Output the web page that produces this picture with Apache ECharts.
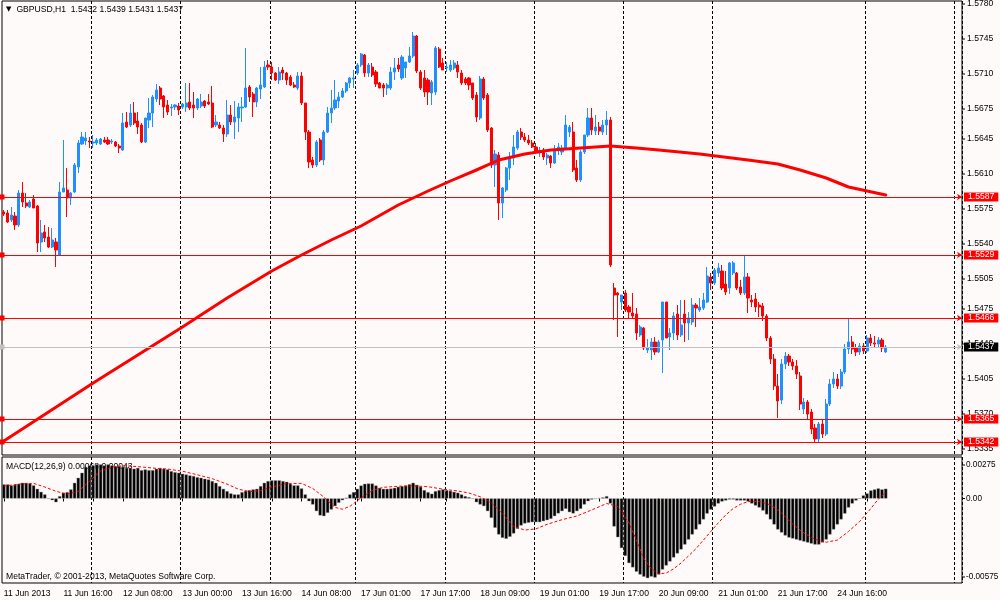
<!DOCTYPE html>
<html><head><meta charset="utf-8">
<script src="https://cdn.jsdelivr.net/npm/echarts@6/dist/echarts.min.js"></script>
<style>html,body{margin:0;padding:0;background:#fffafa;}#c{width:1000px;height:600px;}</style>
</head><body><div id="c"></div>
<script>
// ---------- data ----------
const symbolName = 'GBPUSD,H1';
// trading sessions: [year, month, day, first hour, number of hourly slots]
const sessions = [[2013,6,11,0,95],[2013,6,17,0,119],[2013,6,24,6,44]];
const open = [
1.5572,1.5571,1.5564,1.5568,1.5559,1.5591,1.5581,1.5577,1.5585,1.5578,
1.5542,1.5552,1.5547,1.5537,1.5542,1.5529,1.5592,1.5594,1.5586,1.5592,
1.5617,1.5640,1.5643,1.5643,1.5641,1.5641,1.5640,1.5644,1.5644,1.5642,
1.5642,1.5638,1.5634,1.5662,1.5659,1.5671,1.5663,1.5659,1.5642,1.5664,
1.5671,1.5685,1.5696,1.5688,1.5679,1.5676,1.5677,1.5678,1.5677,1.5677,
1.5682,1.5679,1.5676,1.5678,1.5683,1.5682,1.5681,1.5659,1.5659,1.5656,
1.5650,1.5669,1.5662,1.5666,1.5676,1.5677,1.5697,1.5690,1.5682,1.5695,
1.5697,1.5719,1.5717,1.5711,1.5704,1.5714,1.5711,1.5707,1.5699,1.5696,
1.5708,1.5681,1.5652,1.5624,1.5619,1.5644,1.5624,1.5652,1.5671,1.5676,
1.5683,1.5687,1.5693,1.5701,1.5705,1.5711,1.5719,1.5729,1.5711,1.5717,
1.5712,1.5701,1.5699,1.5696,1.5696,1.5712,1.5719,1.5706,1.5716,1.5722,
1.5728,1.5748,1.5712,1.5706,1.5704,1.5691,1.5692,1.5735,1.5721,1.5716,
1.5714,1.5716,1.5719,1.5711,1.5705,1.5706,1.5701,1.5689,1.5666,1.5705,
1.5689,1.5656,1.5619,1.5629,1.5581,1.5594,1.5616,1.5626,1.5636,1.5652,
1.5647,1.5644,1.5641,1.5637,1.5631,1.5634,1.5626,1.5628,1.5621,1.5634,
1.5632,1.5636,1.5652,1.5652,1.5616,1.5604,1.5632,1.5649,1.5666,1.5653,
1.5657,1.5652,1.5659,1.5664,1.5496,1.5491,1.5482,1.5491,1.5477,1.5471,
1.5470,1.5449,1.5456,1.5434,1.5434,1.5442,1.5432,1.5444,1.5482,1.5447,
1.5451,1.5470,1.5449,1.5470,1.5461,1.5462,1.5479,1.5474,1.5476,1.5482,
1.5507,1.5501,1.5511,1.5513,1.5500,1.5496,1.5511,1.5511,1.5497,1.5491,
1.5507,1.5484,1.5485,1.5479,1.5478,1.5468,1.5446,1.5425,1.5398,1.5384,
1.5420,1.5428,1.5422,1.5418,1.5408,1.5375,1.5382,1.5372,1.5356,1.5345,
1.5360,1.5350,1.5380,1.5400,1.5405,1.5398,1.5412,1.5435,1.5442,1.5436,
1.5432,1.5438,1.5433,1.5446,1.5441,1.5440,1.5444,1.5432];
const high = [
1.5574,1.5574,1.5577,1.5572,1.5594,1.5602,1.5591,1.5584,1.5589,1.5579,
1.5564,1.5559,1.5557,1.5556,1.5546,1.5602,1.5644,1.5616,1.5592,1.5621,
1.5644,1.5652,1.5652,1.5647,1.5649,1.5646,1.5646,1.5647,1.5647,1.5645,
1.5643,1.5640,1.5671,1.5672,1.5680,1.5682,1.5672,1.5661,1.5666,1.5686,
1.5689,1.5700,1.5698,1.5689,1.5684,1.5680,1.5680,1.5681,1.5681,1.5701,
1.5701,1.5692,1.5686,1.5690,1.5684,1.5690,1.5698,1.5669,1.5662,1.5659,
1.5684,1.5679,1.5683,1.5681,1.5687,1.5736,1.5699,1.5692,1.5697,1.5717,
1.5723,1.5724,1.5722,1.5712,1.5717,1.5717,1.5712,1.5709,1.5702,1.5712,
1.5712,1.5681,1.5654,1.5627,1.5644,1.5646,1.5654,1.5677,1.5694,1.5704,
1.5692,1.5696,1.5702,1.5707,1.5714,1.5721,1.5731,1.5730,1.5721,1.5721,
1.5714,1.5702,1.5701,1.5701,1.5717,1.5726,1.5726,1.5729,1.5722,1.5737,
1.5752,1.5749,1.5714,1.5714,1.5706,1.5704,1.5738,1.5737,1.5726,1.5722,
1.5724,1.5724,1.5723,1.5714,1.5707,1.5707,1.5701,1.5692,1.5708,1.5707,
1.5691,1.5657,1.5634,1.5632,1.5597,1.5617,1.5632,1.5649,1.5654,1.5656,
1.5651,1.5649,1.5644,1.5641,1.5637,1.5636,1.5631,1.5629,1.5639,1.5641,
1.5639,1.5669,1.5659,1.5662,1.5624,1.5634,1.5649,1.5676,1.5676,1.5669,
1.5662,1.5664,1.5673,1.5667,1.5501,1.5492,1.5489,1.5494,1.5479,1.5491,
1.5476,1.5459,1.5457,1.5445,1.5446,1.5447,1.5444,1.5482,1.5482,1.5456,
1.5472,1.5479,1.5484,1.5484,1.5472,1.5486,1.5481,1.5486,1.5491,1.5517,
1.5511,1.5516,1.5521,1.5519,1.5513,1.5522,1.5523,1.5512,1.5504,1.5529,
1.5511,1.5489,1.5491,1.5482,1.5481,1.5470,1.5448,1.5430,1.5410,1.5425,
1.5432,1.5430,1.5425,1.5424,1.5412,1.5386,1.5384,1.5375,1.5360,1.5362,
1.5364,1.5385,1.5405,1.5412,1.5410,1.5415,1.5440,1.5466,1.5448,1.5440,
1.5441,1.5441,1.5449,1.5450,1.5448,1.5447,1.5446,1.5439];
const low = [
1.5568,1.5561,1.5562,1.5554,1.5557,1.5577,1.5576,1.5576,1.5576,1.5532,
1.5532,1.5542,1.5536,1.5536,1.5517,1.5529,1.5592,1.5567,1.5579,1.5591,
1.5611,1.5639,1.5639,1.5636,1.5636,1.5639,1.5639,1.5641,1.5639,1.5640,
1.5637,1.5631,1.5633,1.5656,1.5657,1.5659,1.5650,1.5641,1.5641,1.5656,
1.5657,1.5682,1.5679,1.5666,1.5669,1.5668,1.5674,1.5669,1.5675,1.5672,
1.5674,1.5666,1.5674,1.5676,1.5676,1.5679,1.5656,1.5657,1.5655,1.5642,
1.5647,1.5659,1.5645,1.5652,1.5662,1.5676,1.5682,1.5667,1.5677,1.5685,
1.5696,1.5714,1.5704,1.5703,1.5700,1.5704,1.5699,1.5698,1.5696,1.5694,
1.5679,1.5644,1.5616,1.5616,1.5617,1.5622,1.5619,1.5651,1.5661,1.5674,
1.5676,1.5686,1.5691,1.5696,1.5696,1.5709,1.5717,1.5707,1.5707,1.5707,
1.5697,1.5696,1.5687,1.5689,1.5694,1.5704,1.5712,1.5704,1.5706,1.5721,
1.5726,1.5711,1.5694,1.5687,1.5679,1.5679,1.5689,1.5716,1.5714,1.5712,
1.5712,1.5714,1.5706,1.5699,1.5699,1.5694,1.5684,1.5662,1.5664,1.5684,
1.5652,1.5616,1.5597,1.5564,1.5566,1.5592,1.5604,1.5619,1.5634,1.5644,
1.5642,1.5639,1.5636,1.5631,1.5627,1.5624,1.5619,1.5616,1.5620,1.5629,
1.5629,1.5635,1.5647,1.5612,1.5602,1.5602,1.5630,1.5647,1.5649,1.5649,
1.5649,1.5649,1.5649,1.5517,1.5464,1.5447,1.5474,1.5472,1.5466,1.5466,
1.5444,1.5447,1.5434,1.5431,1.5424,1.5429,1.5431,1.5411,1.5446,1.5434,
1.5444,1.5444,1.5447,1.5442,1.5444,1.5459,1.5457,1.5472,1.5474,1.5481,
1.5494,1.5499,1.5507,1.5494,1.5489,1.5490,1.5509,1.5494,1.5489,1.5489,
1.5471,1.5477,1.5472,1.5467,1.5463,1.5443,1.5420,1.5394,1.5366,1.5380,
1.5415,1.5418,1.5414,1.5405,1.5374,1.5370,1.5365,1.5350,1.5341,1.5342,
1.5346,1.5348,1.5378,1.5396,1.5395,1.5395,1.5410,1.5430,1.5430,1.5428,
1.5429,1.5430,1.5431,1.5438,1.5436,1.5437,1.5432,1.5431];
const close = [
1.5570,1.5562,1.5569,1.5559,1.5591,1.5582,1.5578,1.5582,1.5576,1.5541,
1.5551,1.5546,1.5537,1.5544,1.5534,1.5592,1.5596,1.5586,1.5591,1.5619,
1.5641,1.5647,1.5646,1.5642,1.5642,1.5644,1.5645,1.5642,1.5640,1.5643,
1.5638,1.5636,1.5661,1.5657,1.5671,1.5661,1.5657,1.5642,1.5666,1.5671,
1.5687,1.5694,1.5685,1.5677,1.5672,1.5677,1.5679,1.5674,1.5680,1.5681,
1.5676,1.5676,1.5685,1.5682,1.5678,1.5680,1.5657,1.5662,1.5656,1.5650,
1.5669,1.5662,1.5667,1.5677,1.5677,1.5696,1.5687,1.5682,1.5696,1.5699,
1.5717,1.5717,1.5711,1.5704,1.5712,1.5711,1.5704,1.5699,1.5697,1.5708,
1.5681,1.5652,1.5622,1.5619,1.5642,1.5624,1.5652,1.5671,1.5676,1.5684,
1.5687,1.5693,1.5701,1.5706,1.5706,1.5719,1.5730,1.5711,1.5719,1.5709,
1.5700,1.5696,1.5696,1.5699,1.5712,1.5716,1.5715,1.5727,1.5722,1.5728,
1.5748,1.5713,1.5696,1.5692,1.5692,1.5702,1.5736,1.5717,1.5714,1.5717,
1.5719,1.5721,1.5712,1.5701,1.5701,1.5699,1.5686,1.5667,1.5705,1.5686,
1.5654,1.5619,1.5630,1.5581,1.5596,1.5616,1.5627,1.5637,1.5652,1.5647,
1.5644,1.5641,1.5637,1.5632,1.5634,1.5627,1.5629,1.5621,1.5634,1.5637,
1.5636,1.5659,1.5657,1.5614,1.5604,1.5632,1.5649,1.5666,1.5654,1.5657,
1.5653,1.5659,1.5664,1.5519,1.5489,1.5489,1.5489,1.5474,1.5472,1.5468,
1.5451,1.5457,1.5436,1.5436,1.5442,1.5432,1.5442,1.5482,1.5446,1.5451,
1.5468,1.5449,1.5459,1.5461,1.5466,1.5479,1.5476,1.5477,1.5484,1.5508,
1.5501,1.5514,1.5516,1.5496,1.5492,1.5521,1.5521,1.5496,1.5491,1.5507,
1.5486,1.5482,1.5477,1.5477,1.5468,1.5446,1.5425,1.5398,1.5383,1.5420,
1.5428,1.5422,1.5418,1.5410,1.5380,1.5382,1.5370,1.5355,1.5345,1.5360,
1.5350,1.5380,1.5400,1.5405,1.5398,1.5412,1.5435,1.5442,1.5435,1.5432,
1.5438,1.5433,1.5446,1.5441,1.5440,1.5444,1.5436,1.5437];
// moving average: [bar index, value]
const maPoints = [[0,1.5343],[12,1.5372],[24,1.5401],[36,1.5429],[48,1.5457],[60,1.5486],[72,1.5513],[80,1.5529],[88,1.5544],[96,1.5558],[106,1.5579],[114,1.5593],[120,1.5603],[127,1.5614],[133,1.5624],[140,1.5630],[147,1.5634],[155,1.5636],[163,1.5638],[170,1.5636],[176,1.5634],[187,1.5630],[200,1.5624],[208,1.5620],[214,1.5614],[221,1.5606],[227,1.5597],[232,1.5593],[237,1.5589]];
const levels = [1.5587, 1.5529, 1.5466, 1.5365, 1.5342];
const levelAnchored = [true, false, true, true, true];
const bid = 1.5437;
const priceTicks = ['1.5780','1.5745','1.5710','1.5675','1.5645','1.5610','1.5575','1.5540','1.5505','1.5475','1.5440','1.5405','1.5370','1.5335'];
const macd = [
0.00098,0.00098,0.00091,0.00095,0.00102,0.00109,0.00109,0.00104,0.00091,0.00067,
0.00046,0.00028,-0.00002,-0.00012,-0.00026,0.00016,0.00040,0.00044,0.00063,0.00109,
0.00144,0.00179,0.00220,0.00230,0.00230,0.00237,0.00237,0.00230,0.00237,0.00230,
0.00225,0.00225,0.00220,0.00213,0.00213,0.00207,0.00213,0.00197,0.00202,0.00197,
0.00197,0.00207,0.00213,0.00207,0.00202,0.00190,0.00183,0.00179,0.00172,0.00167,
0.00160,0.00156,0.00148,0.00144,0.00137,0.00132,0.00121,0.00109,0.00086,0.00067,
0.00051,0.00035,0.00028,0.00028,0.00044,0.00053,0.00058,0.00063,0.00067,0.00086,
0.00109,0.00121,0.00126,0.00126,0.00126,0.00121,0.00116,0.00102,0.00091,0.00091,
0.00070,0.00028,-0.00019,-0.00042,-0.00088,-0.00118,-0.00123,-0.00100,-0.00077,-0.00053,
-0.00030,-0.00012,0.00005,0.00028,0.00044,0.00067,0.00090,0.00102,0.00104,0.00104,
0.00090,0.00074,0.00067,0.00067,0.00069,0.00074,0.00081,0.00086,0.00090,0.00099,
0.00109,0.00095,0.00081,0.00058,0.00044,0.00033,0.00051,0.00058,0.00063,0.00058,
0.00053,0.00046,0.00040,0.00028,0.00016,0.00009,-0.00002,-0.00026,-0.00042,-0.00053,
-0.00088,-0.00135,-0.00204,-0.00251,-0.00274,-0.00281,-0.00267,-0.00244,-0.00211,-0.00188,
-0.00174,-0.00169,-0.00165,-0.00165,-0.00165,-0.00158,-0.00151,-0.00142,-0.00123,-0.00104,
-0.00088,-0.00072,-0.00095,-0.00104,-0.00088,-0.00072,-0.00042,-0.00019,-0.00007,-0.00002,
0.00002,0.00007,0.00016,-0.00035,-0.00195,-0.00270,-0.00345,-0.00400,-0.00450,-0.00480,
-0.00510,-0.00530,-0.00545,-0.00555,-0.00544,-0.00551,-0.00530,-0.00495,-0.00467,-0.00439,
-0.00411,-0.00383,-0.00355,-0.00321,-0.00286,-0.00251,-0.00216,-0.00181,-0.00146,-0.00105,
-0.00077,-0.00056,-0.00035,-0.00021,-0.00014,-0.00007,-0.00007,-0.00014,-0.00014,-0.00014,
-0.00021,-0.00035,-0.00049,-0.00063,-0.00084,-0.00111,-0.00146,-0.00181,-0.00216,-0.00237,
-0.00258,-0.00272,-0.00279,-0.00286,-0.00293,-0.00300,-0.00307,-0.00314,-0.00321,-0.00321,
-0.00307,-0.00286,-0.00251,-0.00216,-0.00181,-0.00146,-0.00105,-0.00063,-0.00035,-0.00014,
0.00000,0.00021,0.00035,0.00056,0.00063,0.00070,0.00063,0.00068];
// signal line: [bar index, value]
const signal = [[0,0.00086],[4,0.00100],[8,0.00105],[11,0.00080],[14,0.00050],[17,0.00030],[20,0.00050],[23,0.00120],[26,0.00190],[29,0.00218],[32,0.00228],[36,0.00222],[40,0.00212],[44,0.00205],[48,0.00190],[52,0.00165],[56,0.00138],[60,0.00100],[63,0.00065],[66,0.00048],[69,0.00055],[72,0.00080],[76,0.00105],[80,0.00105],[83,0.00070],[86,0.00010],[89,-0.00062],[91,-0.00075],[93,-0.00055],[96,0.00005],[99,0.00055],[102,0.00078],[106,0.00085],[110,0.00088],[114,0.00082],[118,0.00065],[122,0.00052],[125,0.00038],[128,0.00012],[131,-0.00030],[134,-0.00105],[137,-0.00195],[140,-0.00220],[143,-0.00212],[146,-0.00180],[150,-0.00148],[154,-0.00122],[158,-0.00080],[162,-0.00035],[165,-0.00056],[168,-0.00170],[170,-0.00290],[172,-0.00420],[174,-0.00490],[176,-0.00525],[178,-0.00520],[180,-0.00490],[182,-0.00450],[184,-0.00400],[186,-0.00350],[188,-0.00290],[190,-0.00230],[192,-0.00170],[194,-0.00115],[196,-0.00070],[198,-0.00040],[200,-0.00022],[203,-0.00020],[206,-0.00045],[209,-0.00100],[212,-0.00180],[215,-0.00240],[218,-0.00285],[221,-0.00305],[224,-0.00290],[227,-0.00230],[230,-0.00160],[233,-0.00070],[235,-0.00005],[237,0.00043]];
const macdTicks = [0.00275, 0, -0.00575];
const macdTickText = ['0.00275', '0.00', '-0.00575'];
const copyright = 'MetaTrader, \u00a9 2001-2013, MetaQuotes Software Corp.';

// ---------- derived ----------
const MONTHS = ['Jan','Feb','Mar','Apr','May','Jun','Jul','Aug','Sep','Oct','Nov','Dec'];
const times = [];
sessions.forEach(s => { const t0 = Date.UTC(s[0], s[1]-1, s[2], s[3]); for (let k = 0; k < s[4]; k++) times.push(t0 + k*3600000); });
const pad = n => (n < 10 ? '0' : '') + n;
const cats = times.map((t, i) => { const d = new Date(t); return d.getUTCDate() + ' ' + MONTHS[d.getUTCMonth()] + ' ' + (i === 0 ? d.getUTCFullYear() : pad(d.getUTCHours()) + ':00'); });
const labelSet = new Set(); for (let i = 0; i < open.length; i += 16) labelSet.add(i);
const daySet = new Set(); times.forEach((t, i) => { if (i > 0 && new Date(t).getUTCHours() === 0) daySet.add(i); });
const candles = open.map((o, i) => [o, close[i], low[i], high[i]]);
const last = open.length - 1;
const headText = symbolName + '  ' + [open[last], high[last], low[last], close[last]].map(v => v.toFixed(4)).join(' ');
const macdText = 'MACD(12,26,9) ' + macd[last].toFixed(5) + ' ' + signal[signal.length-1][1].toFixed(5);

const FONT = 'Liberation Sans';
const FS = 8.6;
const txt = {fontFamily: FONT, fontSize: FS, color: '#000', fontWeight: 'normal'};
const tickRich = {
  t: {width: 3, height: 1, backgroundColor: '#000', verticalAlign: 'middle', fontSize: 1},
  v: Object.assign({}, txt, {padding: [0, 0, 0, 2]}),
  w: Object.assign({}, txt, {fontSize: 8.2, padding: [0, 0, 0, 1]}),
  e: {height: 12, fontSize: 1},
  f: {height: 8, fontSize: 1}
};

const chart = echarts.init(document.getElementById('c'), null, {renderer: 'canvas', width: 1000, height: 600});
const boxLabel = (text, bg) => ({show: true, position: 'end', distance: 2, formatter: text, backgroundColor: bg, color: '#fff',
  padding: [0, 4, 0, 4], lineHeight: 9, fontSize: FS, fontFamily: FONT});
const lvlData = levels.map((v, i) => ({
  yAxis: v,
  symbol: levelAnchored[i] ? ['emptyRect', 'emptyRect'] : ['none', 'none'],
  symbolSize: 5,
  symbolOffset: [[3, 0], [-2, 0]],
  lineStyle: {color: '#ff0000', width: 1, type: 'solid'},
  label: boxLabel(v.toFixed(4), '#ff0000')
}));
lvlData.push({
  yAxis: bid, symbol: ['none', 'none'],
  lineStyle: {color: '#c0c0c0', width: 1, type: 'solid'},
  label: boxLabel(bid.toFixed(4), '#000')
});

const xBase = {
  type: 'category', data: cats, boundaryGap: true,
  axisLine: {show: false},
  splitLine: {show: true, interval: i => daySet.has(i), lineStyle: {color: '#000', width: 1, type: [3, 2]}}
};

chart.setOption({
  animation: false,
  backgroundColor: '#fffafa',
  title: [
    {text: '{a|\u25bc}{b|' + headText + '}', left: 6, top: 5, padding: 0,
     textStyle: {rich: {a: {fontSize: 7, color: '#000', fontFamily: 'DejaVu Sans', padding: [0, 5, 0, 0]}, b: txt}}},
    {text: macdText, left: 6, top: 462, padding: 0, z: 1, textStyle: txt},
    {text: copyright, left: 6, top: 572, padding: 0, z: 1, textStyle: txt}
  ],
  grid: [
    {left: 2, top: 1, width: 960, height: 454, show: true, borderColor: '#000', borderWidth: 1, backgroundColor: 'transparent', outerBoundsMode: 'none', containLabel: false},
    {left: 2, top: 457, width: 960, height: 126, show: true, borderColor: '#000', borderWidth: 1, backgroundColor: 'transparent', outerBoundsMode: 'none', containLabel: false}
  ],
  xAxis: [
    Object.assign({}, xBase, {gridIndex: 0, axisTick: {show: false}, axisLabel: {show: false}}),
    Object.assign({}, xBase, {gridIndex: 1, position: 'bottom',
      axisTick: {show: true, alignWithLabel: true, length: 3, interval: i => labelSet.has(i) || (daySet.has(i) && i < open.length), lineStyle: {color: '#000'}},
      axisLabel: {show: true, interval: i => labelSet.has(i), align: 'left', margin: 6, fontFamily: FONT, fontSize: FS, color: '#000',
        formatter: (v, i) => labelSet.has(i) ? v : ''}})
  ],
  yAxis: [
    {type: 'value', gridIndex: 0, position: 'right', min: 1.5329, max: 1.5783, interval: 0.0001,
     axisLine: {show: false}, axisTick: {show: false}, splitLine: {show: false},
     axisLabel: {margin: 0, rich: tickRich, formatter: v => { const s = v.toFixed(4); return priceTicks.includes(s) ? '{t| }{v|' + s + '}' : ''; }}},
    {type: 'value', gridIndex: 1, position: 'right', min: -0.00589, max: 0.00289, interval: 0.00001,
     axisLine: {show: false}, axisTick: {show: false}, splitLine: {show: false},
     axisLabel: {margin: 0, rich: tickRich, formatter: v => {
       const k = Math.round(v * 100000);
       const j = macdTicks.findIndex(m => Math.round(m * 100000) === k);
       if (j < 0) return '';
       const core = '{t| }{w|' + macdTickText[j] + '}';
       if (j === 0) return '{e| }\n' + core;
       if (j === macdTicks.length - 1) return core + '\n{f| }';
       return core;
     }}}
  ],
  series: [
    {type: 'candlestick', xAxisIndex: 0, yAxisIndex: 0, data: candles, barWidth: 2.6, z: 2,
     itemStyle: {color: '#1e90ff', color0: '#ff0000', borderColor: '#1e90ff', borderColor0: '#ff0000', borderColorDoji: '#1e90ff', borderWidth: 1}},
    {type: 'line', xAxisIndex: 0, yAxisIndex: 0, data: maPoints, showSymbol: false, z: 3,
     lineStyle: {color: '#ff0000', width: 3, cap: 'round', join: 'round'}},
    {type: 'line', xAxisIndex: 0, yAxisIndex: 0, data: [], z: 4,
     markLine: {silent: true, animation: false, precision: 4, symbolSize: 5, data: lvlData}},
    {type: 'bar', xAxisIndex: 1, yAxisIndex: 1, data: macd, barWidth: 3.2, z: 2,
     itemStyle: {color: '#000', borderColor: '#8c8c8c', borderWidth: 0.4}},
    {type: 'line', xAxisIndex: 1, yAxisIndex: 1, data: signal, showSymbol: false, z: 3,
     lineStyle: {color: '#ff0000', width: 1, type: [3, 2]}}
  ]
});
</script></body></html>
